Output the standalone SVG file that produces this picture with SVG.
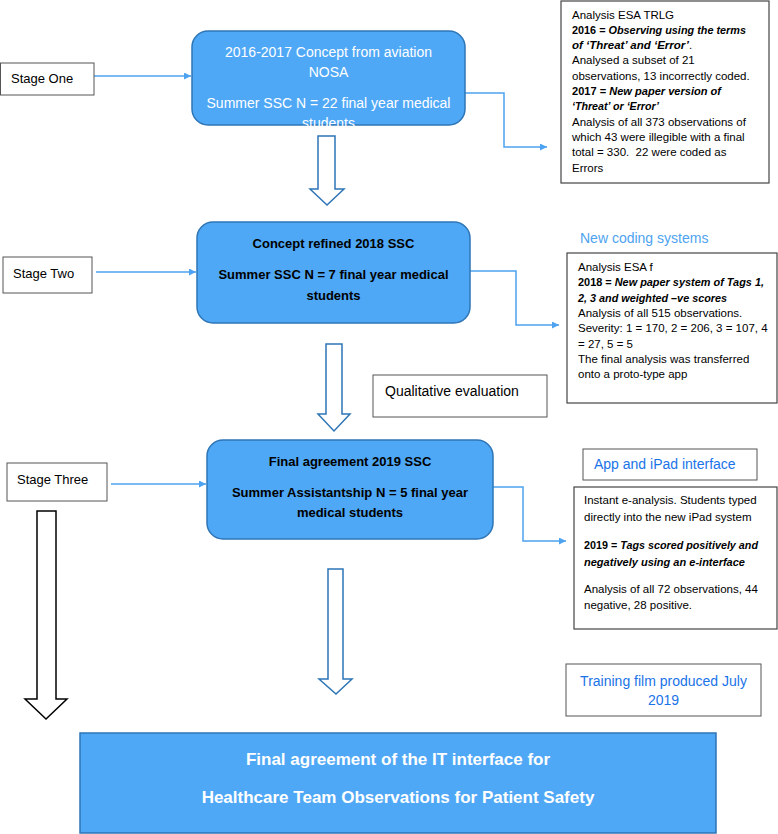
<svg xmlns="http://www.w3.org/2000/svg" width="778" height="834" viewBox="0 0 778 834">
<style>
text{font-family:"Liberation Sans",Arial,sans-serif}
.blue{fill:#4fa8f6;stroke:#2e75b6;stroke-width:1.5}
.stage{fill:#fff;stroke:#555;stroke-width:1}
.note{fill:#fff;stroke:#444;stroke-width:1.2}
.st{font-size:13px;fill:#000}
.w14{font-size:14px;fill:#fff;text-anchor:middle}
.b13{font-size:13px;font-weight:bold;fill:#000;text-anchor:middle}
.n{font-size:11.5px;fill:#000}
.bi{font-weight:bold;font-style:italic}
.b{font-weight:bold}
.lbl{font-size:14px;fill:#1a73e8}
.conn{fill:none;stroke:#4da3f0;stroke-width:1.5}
.hollow{fill:#fff;stroke:#2e75b6;stroke-width:1.5}
.hollowk{fill:#fff;stroke:#000;stroke-width:1.5}
</style>
<defs>
<marker id="ah" viewBox="0 0 10 10" refX="10" refY="5" markerWidth="7" markerHeight="7" markerUnits="userSpaceOnUse" orient="auto">
<path d="M0,0 L10,5 L0,10 z" fill="#4da3f0"/>
</marker>
</defs>

<g id="connectors">
<line class="conn" x1="94" y1="76" x2="191" y2="76" marker-end="url(#ah)"/>
<line class="conn" x1="96" y1="272" x2="196" y2="272" marker-end="url(#ah)"/>
<line class="conn" x1="111" y1="484" x2="206" y2="484" marker-end="url(#ah)"/>
<polyline class="conn" points="465,93 504,93 504,147 547,147" marker-end="url(#ah)"/>
<polyline class="conn" points="470,271 516,271 516,325 559,325" marker-end="url(#ah)"/>
<polyline class="conn" points="493,487 523,487 523,541 566,541" marker-end="url(#ah)"/>
<path class="hollow" d="M318,136 L335,136 L335,189 L344,189 L327,205 L310,189 L318,189 Z"/>
<path class="hollow" d="M326,344 L342,344 L342,414 L350,414 L334,431 L318,414 L326,414 Z"/>
<path class="hollow" d="M328,569 L343,569 L343,679 L352,679 L336,694 L319,679 L328,679 Z"/>
<path class="hollowk" d="M37,511 L56,511 L56,699 L67,699 L46,719 L25,699 L37,699 Z"/>
</g>

<g id="stage-one">
<rect class="stage" x="0.5" y="63" width="93.5" height="32"/>
<text class="st" x="11" y="82.5">Stage One</text>
</g>
<g id="stage-two">
<rect class="stage" x="3" y="257" width="89" height="36"/>
<text class="st" x="13" y="277.5">Stage Two</text>
</g>
<g id="stage-three">
<rect class="stage" x="7" y="463" width="100" height="38"/>
<text class="st" x="17" y="483.5">Stage Three</text>
</g>

<g id="concept-2016">
<rect class="blue" x="192" y="31" width="273" height="94" rx="16"/>
<text class="w14" x="328.5" y="57">2016-2017 Concept from aviation</text>
<text class="w14" x="328.5" y="77">NOSA</text>
<text class="w14" x="328.5" y="108">Summer SSC N = 22 final year medical</text>
<text class="w14" x="328.5" y="128">students</text>
</g>

<g id="concept-2018">
<rect class="blue" x="197" y="222" width="273" height="101" rx="16"/>
<text class="b13" x="333.5" y="247.5">Concept refined 2018 SSC</text>
<text class="b13" x="333.5" y="278.5">Summer SSC N = 7 final year medical</text>
<text class="b13" x="333.5" y="299.5">students</text>
</g>

<g id="final-2019">
<rect class="blue" x="207" y="440" width="286" height="99" rx="16"/>
<text class="b13" x="350" y="465.5">Final agreement 2019 SSC</text>
<text class="b13" x="350" y="496.5">Summer Assistantship N = 5 final year</text>
<text class="b13" x="350" y="516.5">medical students</text>
</g>

<g id="analysis-trlg">
<rect class="note" x="561" y="1" width="208" height="182"/>
<text class="n" x="572" y="18.5">Analysis ESA TRLG</text>
<text class="n" x="572" y="33.8" textLength="174" lengthAdjust="spacingAndGlyphs"><tspan class="b">2016 = </tspan><tspan class="bi">Observing using the terms</tspan></text>
<text class="n" x="572" y="49.1"><tspan class="bi">of ‘Threat’ and ‘Error’</tspan>.</text>
<text class="n" x="572" y="64.4">Analysed a subset of 21</text>
<text class="n" x="572" y="79.7">observations, 13 incorrectly coded.</text>
<text class="n" x="572" y="95" textLength="149" lengthAdjust="spacingAndGlyphs"><tspan class="b">2017 = </tspan><tspan class="bi">New paper version of</tspan></text>
<text class="n" x="572" y="110.3" textLength="87" lengthAdjust="spacingAndGlyphs"><tspan class="bi">‘Threat’ or ‘Error’</tspan></text>
<text class="n" x="572" y="125.6">Analysis of all 373 observations of</text>
<text class="n" x="572" y="140.9">which 43 were illegible with a final</text>
<text class="n" x="572" y="156.2">total = 330.&#160; 22 were coded as</text>
<text class="n" x="572" y="171.5">Errors</text>
</g>

<g id="new-coding-label">
<text x="580" y="243" style="font-size:14px;fill:#4da3f0">New coding systems</text>
</g>

<g id="analysis-f">
<rect class="note" x="567" y="253" width="210" height="150"/>
<text class="n" x="578" y="271">Analysis ESA f</text>
<text class="n" x="578" y="286.3" textLength="186" lengthAdjust="spacingAndGlyphs"><tspan class="b">2018 = </tspan><tspan class="bi">New paper system of Tags 1,</tspan></text>
<text class="n" x="578" y="301.6" textLength="149" lengthAdjust="spacingAndGlyphs"><tspan class="bi">2, 3 and weighted –ve scores</tspan></text>
<text class="n" x="578" y="316.9">Analysis of all 515 observations.</text>
<text class="n" x="578" y="332.2">Severity: 1 = 170, 2 = 206, 3 = 107, 4</text>
<text class="n" x="578" y="347.5">= 27, 5 = 5</text>
<text class="n" x="578" y="362.8">The final analysis was transferred</text>
<text class="n" x="578" y="378.1">onto a proto-type app</text>
</g>

<g id="qualitative">
<rect class="stage" x="373" y="375" width="174" height="42"/>
<text x="385" y="396" style="font-size:14px;fill:#000">Qualitative evaluation</text>
</g>

<g id="app-ipad">
<rect class="stage" x="583" y="449" width="174" height="31"/>
<text class="lbl" x="594" y="469">App and iPad interface</text>
</g>

<g id="e-analysis">
<rect class="note" x="574" y="487" width="203" height="142"/>
<text class="n" x="584" y="504">Instant e-analysis. Students typed</text>
<text class="n" x="584" y="521">directly into the new iPad system</text>
<text class="n" x="584" y="549" textLength="174" lengthAdjust="spacingAndGlyphs"><tspan class="b">2019 = </tspan><tspan class="bi">Tags scored positively and</tspan></text>
<text class="n" x="584" y="566" textLength="161" lengthAdjust="spacingAndGlyphs"><tspan class="bi">negatively using an e-interface</tspan></text>
<text class="n" x="584" y="593">Analysis of all 72 observations, 44</text>
<text class="n" x="584" y="609">negative, 28 positive.</text>
</g>

<g id="training-film">
<rect class="stage" x="566" y="664" width="195" height="52"/>
<text class="lbl" x="663.5" y="686" text-anchor="middle">Training film produced July</text>
<text class="lbl" x="663.5" y="705" text-anchor="middle">2019</text>
</g>

<g id="final-agreement">
<rect x="80" y="733" width="636" height="100" fill="#4fa8f6" stroke="#2e75b6" stroke-width="1.5"/>
<text x="398" y="765" text-anchor="middle" style="font-size:17px;font-weight:bold;fill:#fff">Final agreement of the IT interface for</text>
<text x="398" y="803" text-anchor="middle" style="font-size:17px;font-weight:bold;fill:#fff">Healthcare Team Observations for Patient Safety</text>
</g>
</svg>
